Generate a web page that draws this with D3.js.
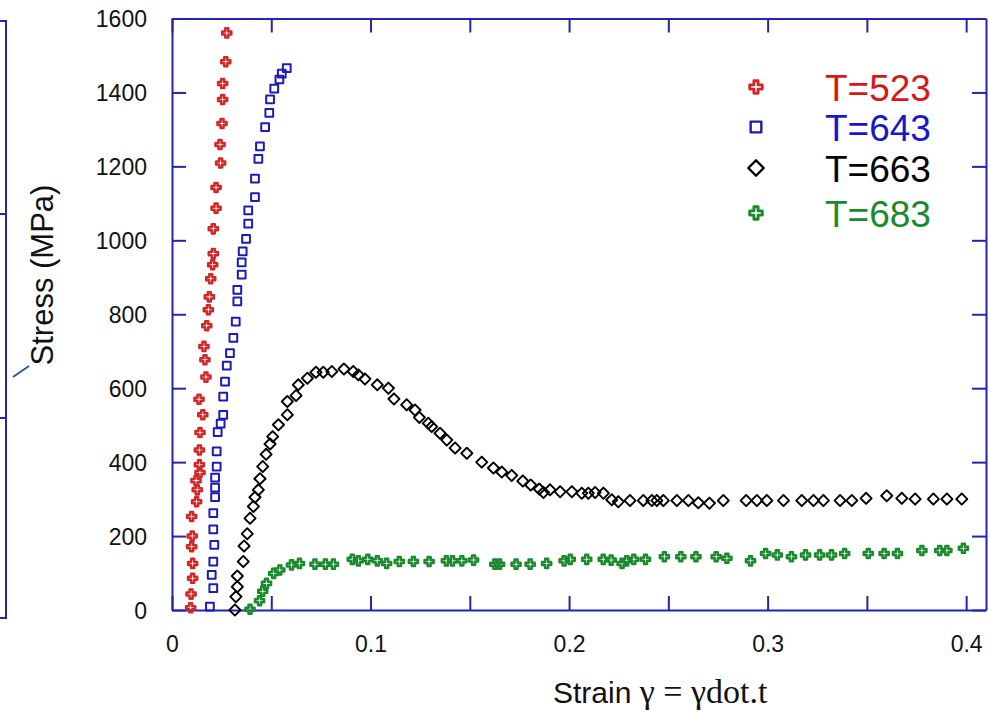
<!DOCTYPE html>
<html>
<head>
<meta charset="utf-8">
<script src="https://cdn.jsdelivr.net/npm/d3@7"></script>
<style>
  body { margin: 0; background: #fff; }
  svg text { font-family: "Liberation Sans", Arial, sans-serif; }
</style>
</head>
<body>
<svg id="chart"></svg>
<script>
// axis ticks
const strainTicks = [0, 0.05, 0.1, 0.15, 0.2, 0.25, 0.3, 0.35, 0.4]
const stressTicks = [0, 200, 400, 600, 800, 1000, 1200, 1400, 1600]

const seriesNames = ['T=523', 'T=643', 'T=663', 'T=683']
const markerColors = ['#d02828', '#1c1cb4', '#000000', '#1a8a2c']
const textColors = ['#d81818', '#1818c8', '#000000', '#1a8a2c']

// [strain, stress MPa]
const t523 = [[0.0094, 6], [0.0096, 43], [0.0104, 86], [0.0104, 126], [0.0099, 171], [0.0102, 200],
  [0.0099, 253], [0.0124, 293], [0.0127, 325], [0.0121, 350], [0.0141, 372], [0.0138, 393],
  [0.0138, 433], [0.0141, 480], [0.0155, 528], [0.0136, 570], [0.0171, 630], [0.0166, 677],
  [0.0161, 713], [0.0175, 769], [0.0183, 812], [0.0188, 847], [0.0195, 896], [0.0205, 934],
  [0.0208, 964], [0.0208, 1031], [0.0222, 1087], [0.0222, 1143], [0.0245, 1209], [0.0242, 1259],
  [0.0252, 1316], [0.0255, 1381], [0.0255, 1424], [0.0271, 1483], [0.0276, 1561]]

const t643 = [[0.0191, 9], [0.0208, 59], [0.0200, 95], [0.0208, 131], [0.0213, 176], [0.0208, 218],
  [0.0208, 262], [0.0217, 305], [0.0217, 331], [0.0217, 358], [0.0225, 388], [0.0225, 429],
  [0.0230, 481], [0.0245, 504], [0.0258, 528], [0.0258, 577], [0.0267, 618], [0.0276, 661],
  [0.0292, 695], [0.0309, 736], [0.0321, 780], [0.0329, 835], [0.0329, 866], [0.0351, 907],
  [0.0351, 940], [0.0356, 970], [0.0373, 1004], [0.0384, 1045], [0.0384, 1081], [0.0418, 1117],
  [0.0418, 1167], [0.0435, 1220], [0.0443, 1254], [0.0469, 1306], [0.0490, 1345], [0.0494, 1381],
  [0.0515, 1410], [0.0541, 1435], [0.0553, 1451], [0.0578, 1466]]

const t663 = [[0.0317, 0], [0.0322, 36], [0.0329, 63], [0.0329, 92], [0.0359, 131], [0.0363, 173],
  [0.0379, 206], [0.0393, 248], [0.0410, 280], [0.0418, 305], [0.0435, 325], [0.0443, 355],
  [0.0457, 388], [0.0474, 421], [0.0494, 449], [0.0507, 469], [0.0536, 501], [0.0581, 528],
  [0.0581, 564], [0.0625, 580], [0.0636, 609], [0.0682, 627], [0.0725, 643], [0.0762, 643],
  [0.0805, 645], [0.0866, 652], [0.0913, 645], [0.0939, 636], [0.0972, 625], [0.1034, 609],
  [0.1090, 600], [0.1118, 571], [0.1182, 555], [0.1224, 541], [0.1246, 521], [0.1291, 505],
  [0.1308, 496], [0.1350, 478], [0.1384, 460], [0.1426, 438], [0.1485, 424], [0.1560, 400],
  [0.1619, 384], [0.1661, 373], [0.1711, 364], [0.1767, 349], [0.1807, 338], [0.1850, 327],
  [0.1871, 318], [0.1904, 325], [0.1955, 320], [0.2014, 320], [0.2064, 316], [0.2097, 316],
  [0.2131, 318], [0.2173, 316], [0.2215, 298], [0.2248, 293], [0.2307, 296], [0.2374, 296],
  [0.2417, 296], [0.2442, 296], [0.2475, 296], [0.2543, 296], [0.2601, 296], [0.2651, 290],
  [0.2707, 289], [0.2777, 296], [0.2892, 296], [0.2946, 296], [0.2996, 296], [0.3080, 296],
  [0.3172, 296], [0.3231, 296], [0.3281, 296], [0.3365, 296], [0.3424, 296], [0.3496, 302],
  [0.3600, 309], [0.3676, 302], [0.3743, 300], [0.3835, 300], [0.3903, 300], [0.3978, 300]]

const t683 = [[0.0393, 2], [0.0441, 25], [0.0457, 51], [0.0476, 72], [0.0512, 99], [0.0543, 108],
  [0.0602, 122], [0.0642, 126], [0.0720, 124], [0.0773, 124], [0.0813, 124], [0.0908, 137],
  [0.0939, 133], [0.0986, 137], [0.1034, 133], [0.1081, 126], [0.1145, 131], [0.1216, 131],
  [0.1295, 131], [0.1382, 133], [0.1413, 133], [0.1460, 133], [0.1519, 135], [0.1626, 124],
  [0.1650, 124], [0.1733, 124], [0.1804, 124], [0.1887, 126], [0.1975, 133], [0.2006, 137],
  [0.2089, 137], [0.2172, 137], [0.2212, 135], [0.2267, 126], [0.2290, 133], [0.2326, 137],
  [0.2385, 137], [0.2480, 144], [0.2563, 144], [0.2639, 144], [0.2741, 144], [0.2795, 140],
  [0.2914, 133], [0.2990, 153], [0.3049, 149], [0.3120, 144], [0.3191, 149], [0.3262, 149],
  [0.3322, 149], [0.3388, 153], [0.3507, 153], [0.3587, 153], [0.3654, 153], [0.3777, 161],
  [0.3867, 161], [0.3903, 161], [0.3986, 167]]

const seriesData = [t523, t643, t663, t683]

const width = 990, height = 713
const plotLeft = 172, plotRight = 986, plotTop = 18.5, plotBottom = 610
const frameColor = '#2424b0'

const svg = d3.select('#chart').attr('width', width).attr('height', height)

const x = d3.scaleLinear().domain([0, 0.41]).range([plotLeft, plotRight])
const y = d3.scaleLinear().domain([0, 1600]).range([plotBottom, plotTop])

// leftover of a neighbouring panel on the far left
const stub = svg.append('g').attr('stroke', frameColor).attr('stroke-width', 2).attr('fill', 'none')
stub.append('line').attr('x1', 6).attr('x2', 6).attr('y1', 20).attr('y2', 619)
;[21, 214, 418, 618].forEach(v => {
  stub.append('line').attr('x1', 0).attr('x2', 6).attr('y1', v).attr('y2', v)
})
stub.append('line').attr('x1', 13).attr('y1', 377).attr('x2', 29).attr('y2', 366)
  .attr('stroke', '#2a5a9a')

// axes, ticks pointing inwards
function styleAxis(g) {
  g.select('.domain').attr('stroke', frameColor).attr('stroke-width', 2)
  g.selectAll('.tick line').attr('stroke', frameColor).attr('stroke-width', 2)
  g.selectAll('.tick text').attr('fill', '#111').attr('font-size', 23)
    .attr('font-family', '"Liberation Sans", Arial, sans-serif')
}

svg.append('g')
  .attr('transform', `translate(0,${plotBottom})`)
  .call(d3.axisBottom(x).tickValues(strainTicks).tickSize(-14).tickPadding(26).tickSizeOuter(0)
    .tickFormat(d => Math.abs(d * 10 - Math.round(d * 10)) < 1e-6 ? d3.format('~g')(d) : ''))
  .call(styleAxis)

svg.append('g')
  .attr('transform', `translate(0,${plotTop})`)
  .call(d3.axisTop(x).tickValues(strainTicks).tickSize(-14).tickSizeOuter(0).tickFormat(''))
  .call(styleAxis)

svg.append('g')
  .attr('transform', `translate(${plotLeft},0)`)
  .call(d3.axisLeft(y).tickValues(stressTicks).tickSize(-14).tickPadding(25).tickSizeOuter(0)
    .tickFormat(d3.format('d')))
  .call(styleAxis)
  .call(g => g.selectAll('.tick text').attr('dy', '0.36em'))

svg.append('g')
  .attr('transform', `translate(${plotRight},0)`)
  .call(d3.axisRight(y).tickValues(stressTicks).tickSize(-14).tickSizeOuter(0).tickFormat(''))
  .call(styleAxis)

// markers
const symbols = [d3.symbolCross, d3.symbolSquare, d3.symbolSquare, d3.symbolCross]
const rotations = [0, 0, 45, 0]
const sizes = [46, 60, 62, 46]
const strokeWidths = [2.5, 2, 1.9, 2.5]

seriesData.forEach((data, i) => {
  const sym = d3.symbol().type(symbols[i]).size(sizes[i])
  svg.append('g')
    .selectAll('path')
    .data(data)
    .join('path')
    .attr('d', sym)
    .attr('transform', d => `translate(${x(d[0])},${y(d[1])}) rotate(${rotations[i]})`)
    .attr('fill', 'none')
    .attr('stroke', markerColors[i])
    .attr('stroke-width', strokeWidths[i])
    .attr('stroke-linejoin', 'round')
})

// legend
const legendRows = [87, 127, 168, 213]
const legend = svg.append('g')
seriesNames.forEach((name, i) => {
  const sym = d3.symbol().type(symbols[i]).size(sizes[i] * 1.9)
  legend.append('path')
    .attr('d', sym)
    .attr('transform', `translate(756,${legendRows[i]}) rotate(${rotations[i]})`)
    .attr('fill', 'none')
    .attr('stroke', markerColors[i])
    .attr('stroke-width', strokeWidths[i] + 0.4)
    .attr('stroke-linejoin', 'round')
  legend.append('text')
    .attr('x', 825)
    .attr('y', legendRows[i] + 13.5)
    .attr('font-size', 37)
    .attr('fill', textColors[i])
    .text(name)
})

// axis titles
svg.append('text')
  .attr('transform', 'translate(53,275) rotate(-90)')
  .attr('text-anchor', 'middle')
  .attr('font-size', 31)
  .attr('fill', '#111')
  .text('Stress (MPa)')

const xTitle = svg.append('text')
  .attr('x', 553)
  .attr('y', 703)
  .attr('font-size', 30)
  .attr('fill', '#111')
xTitle.append('tspan').text('Strain ')
xTitle.append('tspan')
  .attr('font-family', '"Liberation Serif", "Times New Roman", serif')
  .attr('font-size', 34)
  .text('γ = γdot.t')
</script>
</body>
</html>
